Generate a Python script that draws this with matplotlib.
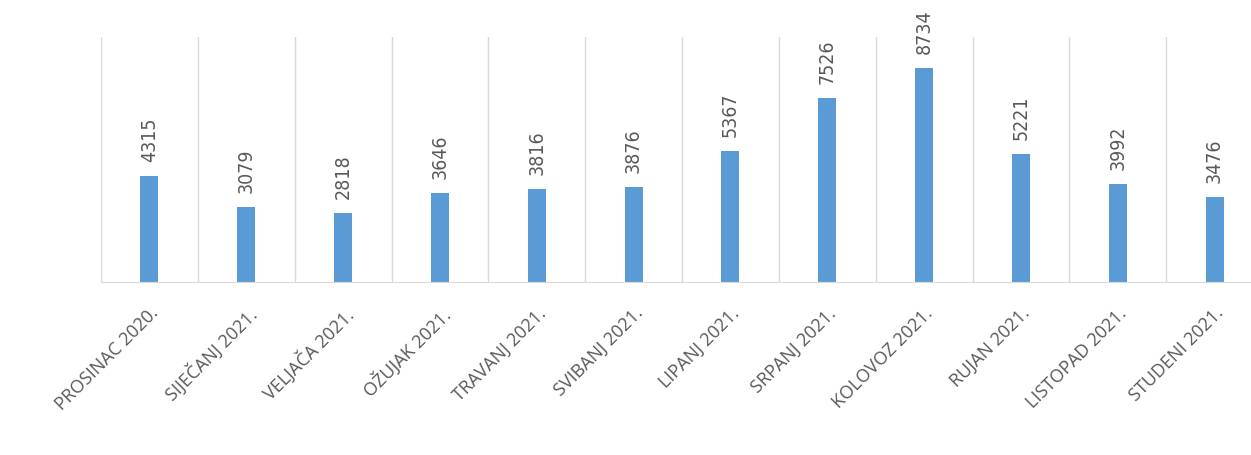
import matplotlib.pyplot as plt
import numpy as np

months = ['PROSINAC 2020.', 'SIJEČANJ 2021.', 'VELJAČA 2021.', 'OŽUJAK 2021.',
          'TRAVANJ 2021.', 'SVIBANJ 2021.', 'LIPANJ 2021.', 'SRPANJ 2021.',
          'KOLOVOZ 2021.', 'RUJAN 2021.', 'LISTOPAD 2021.', 'STUDENI 2021.']
counts = [4315, 3079, 2818, 3646, 3816, 3876, 5367, 7526, 8734, 5221, 3992, 3476]

bar_color = '#5B9BD5'
text_color = '#595959'
grid_color = '#D9D9D9'

fig = plt.figure(figsize=(12.51, 4.55), dpi=100)
ax = fig.add_axes([101 / 1251, 1 - 282 / 455, 1162 / 1251, 245 / 455])

x = np.arange(len(months))
bars = ax.bar(x, counts, width=0.185, color=bar_color, zorder=2)

# value labels, vertical, above each bar
for xi, v in zip(x, counts):
    ax.annotate(str(v), (xi, v), xytext=(0, 10), textcoords='offset points',
                rotation=90, ha='center', va='bottom', fontsize=14,
                color=text_color, family='DejaVu Sans', stretch='condensed')

ax.set_xlim(-0.5, len(months) - 0.5)
ax.set_ylim(0, 10000)

# category separators
for b in np.arange(-0.5, len(months), 1.0):
    ax.axvline(b, color=grid_color, lw=1, zorder=1)

ax.set_xticks(x)
ax.set_xticklabels(months, rotation=45, ha='right', rotation_mode='anchor',
                   fontsize=13, color=text_color, family=['Open Sans', 'DejaVu Sans'])
ax.tick_params(axis='x', length=0, pad=16)
ax.set_yticks([])

for s in ['top', 'right', 'left']:
    ax.spines[s].set_visible(False)
ax.spines['bottom'].set_color(grid_color)

fig.savefig('out.png', dpi=100)
